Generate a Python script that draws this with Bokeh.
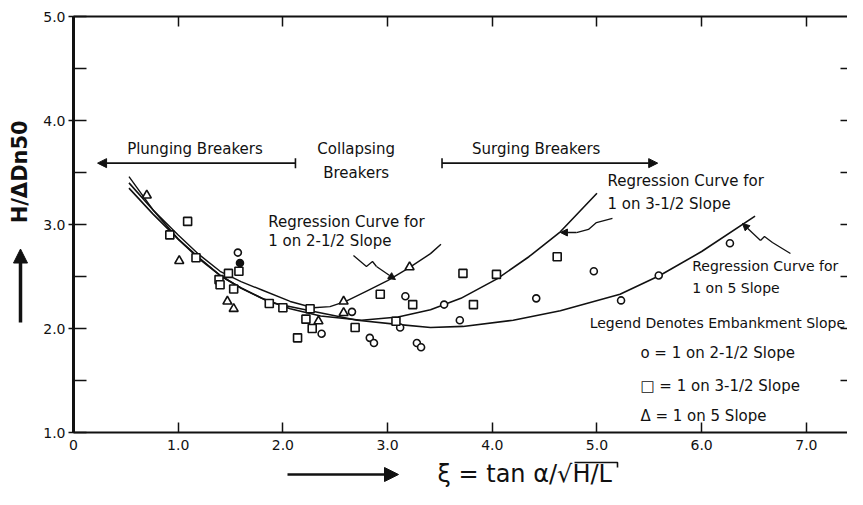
from bokeh.plotting import figure
from bokeh.layouts import row, column
from bokeh.models import Range1d, LinearAxis, FixedTicker, Label, Arrow, NormalHead, TeeHead
from bokeh.embed import file_html
from bokeh.resources import INLINE
import math

# ---------------- data ----------------
x_tick_values = [0, 1, 2, 3, 4, 5, 6, 7]
x_tick_labels = ["0", "1.0", "2.0", "3.0", "4.0", "5.0", "6.0", "7.0"]
y_tick_values = [1, 2, 3, 4, 5]
y_tick_labels = ["1.0", "2.0", "3.0", "4.0", "5.0"]
y_minor_ticks = [1.5, 2.5, 3.5, 4.5]

# 1 on 2-1/2 slope (circles)
circle_x = [1.57, 2.37, 2.66, 2.83, 2.87, 3.12, 3.17, 3.28, 3.32, 3.54, 3.69, 4.42, 4.97, 5.23, 5.59, 6.27]
circle_y = [2.73, 1.95, 2.16, 1.91, 1.86, 2.01, 2.31, 1.86, 1.82, 2.23, 2.08, 2.29, 2.55, 2.27, 2.51, 2.82]
filled_circle_x = [1.59]
filled_circle_y = [2.63]
# 1 on 3-1/2 slope (squares)
square_x = [0.92, 1.09, 1.17, 1.39, 1.40, 1.48, 1.53, 1.58, 1.87, 2.00, 2.14, 2.22, 2.26, 2.28,
            2.69, 2.93, 3.08, 3.24, 3.72, 3.82, 4.04, 4.62]
square_y = [2.90, 3.03, 2.68, 2.47, 2.42, 2.53, 2.38, 2.55, 2.24, 2.20, 1.91, 2.09, 2.19, 2.00,
            2.01, 2.33, 2.07, 2.23, 2.53, 2.23, 2.52, 2.69]
# 1 on 5 slope (triangles)
triangle_x = [0.70, 1.01, 1.47, 1.53, 2.34, 2.58, 2.58, 3.21]
triangle_y = [3.28, 2.65, 2.26, 2.19, 2.07, 2.26, 2.15, 2.59]

# regression curves
curve25_x = [0.53, 0.76, 1.0, 1.2, 1.4, 1.6, 1.8, 2.07, 2.29, 2.45, 2.6, 2.8, 3.0, 3.2, 3.41, 3.51]
curve25_y = [3.46, 3.14, 2.90, 2.71, 2.55, 2.45, 2.37, 2.26, 2.20, 2.21, 2.26, 2.36, 2.46, 2.58, 2.72, 2.81]
curve35_x = [0.53, 0.76, 1.0, 1.2, 1.4, 1.6, 1.8, 2.07, 2.36, 2.75, 3.1, 3.41, 3.7, 4.05, 4.35, 4.65, 5.0]
curve35_y = [3.40, 3.14, 2.86, 2.67, 2.51, 2.39, 2.29, 2.19, 2.12, 2.08, 2.11, 2.18, 2.29, 2.48, 2.69, 2.93, 3.30]
curve5_x = [0.53, 0.76, 1.0, 1.2, 1.4, 1.6, 1.88, 2.26, 2.71, 3.09, 3.41, 3.72, 4.2, 4.65, 5.22, 5.6, 6.0, 6.51]
curve5_y = [3.35, 3.10, 2.86, 2.68, 2.51, 2.39, 2.25, 2.17, 2.08, 2.04, 2.01, 2.02, 2.08, 2.17, 2.33, 2.51, 2.74, 3.08]

# ---------------- layout constants ----------------
FONT = "DejaVu Sans"
INK = "#111111"
TOTAL_W, TOTAL_H = 847, 489
LEFT_W = 36           # strip holding the vertical axis title
MAIN_H = 458          # main figure height; the rest is the strip with the x title

# ---------------- main figure ----------------
p = figure(width=TOTAL_W - LEFT_W, height=MAIN_H, output_backend="svg", toolbar_location=None,
           x_range=Range1d(0, 7.393), y_range=Range1d(1.0, 5.0),
           min_border_left=37, min_border_right=0, min_border_top=16, min_border_bottom=26)
p.outline_line_color = None
p.xgrid.visible = False
p.ygrid.visible = False

xa = p.xaxis[0]
xa.ticker = FixedTicker(ticks=x_tick_values)
xa.major_label_overrides = {v: s for v, s in zip(x_tick_values, x_tick_labels)}
xa.axis_line_width = 2
xa.axis_line_color = INK
xa.major_tick_in = 10
xa.major_tick_out = 0
xa.major_tick_line_width = 1.5
xa.major_tick_line_color = INK
xa.minor_tick_line_color = None
xa.major_label_standoff = 7
xa.major_label_text_font = FONT
xa.major_label_text_font_size = "14px"
xa.major_label_text_color = INK

ya = p.yaxis[0]
ya.ticker = FixedTicker(ticks=y_tick_values, minor_ticks=y_minor_ticks)
ya.major_label_overrides = {v: s for v, s in zip(y_tick_values, y_tick_labels)}
ya.axis_line_width = 3
ya.axis_line_color = INK
ya.major_tick_in = 13
ya.major_tick_out = 5
ya.major_tick_line_width = 1.5
ya.major_tick_line_color = INK
ya.minor_tick_in = 13
ya.minor_tick_out = 0
ya.minor_tick_line_width = 1.5
ya.minor_tick_line_color = INK
ya.major_label_standoff = 3
ya.major_label_text_font = FONT
ya.major_label_text_font_size = "14px"
ya.major_label_text_color = INK

top_ticks = x_tick_values[1:]
ta = LinearAxis(ticker=FixedTicker(ticks=top_ticks),
                major_label_overrides={v: "" for v in top_ticks}, major_label_standoff=0,
                axis_line_width=2, axis_line_color=INK,
                major_tick_in=10, major_tick_out=0, major_tick_line_width=1.5,
                major_tick_line_color=INK, minor_tick_line_color=None)
p.add_layout(ta, "above")

right_ticks = [1.5, 2.0, 2.5, 3.0, 3.5, 4.0, 4.5]
ra = LinearAxis(ticker=FixedTicker(ticks=right_ticks),
                major_label_overrides={v: "" for v in right_ticks}, major_label_standoff=0,
                axis_line_color=None, major_tick_in=7, major_tick_out=0,
                major_tick_line_width=1.5, major_tick_line_color=INK,
                minor_tick_line_color=None)
p.add_layout(ra, "right")

# regression curves
p.line(curve25_x, curve25_y, line_color=INK, line_width=1.4)
p.line(curve35_x, curve35_y, line_color=INK, line_width=1.6)
p.line(curve5_x, curve5_y, line_color=INK, line_width=1.6)

# data points
p.scatter(circle_x, circle_y, marker="circle", size=7, fill_color="white", line_color=INK, line_width=1.6)
p.scatter(filled_circle_x, filled_circle_y, marker="circle", size=7, fill_color=INK, line_color=INK, line_width=1.6)
p.scatter(square_x, square_y, marker="square", size=8, fill_color="white", line_color=INK, line_width=1.6)
p.scatter(triangle_x, triangle_y, marker="triangle", size=9, fill_color="white", line_color=INK, line_width=1.6)


def label(fig, x, y, text, size="15px", align="left", style="normal", angle=0.0, baseline="middle"):
    fig.add_layout(Label(x=x, y=y, text=text, text_font=FONT, text_font_size=size,
                         text_align=align, text_baseline=baseline, text_color=INK,
                         text_font_style=style, angle=angle))


def head(size):
    return NormalHead(size=size, fill_color=INK, line_color=INK)


# breaker zones
label(p, 1.16, 3.73, "Plunging Breakers", align="center")
label(p, 2.70, 3.73, "Collapsing", align="center")
label(p, 2.70, 3.50, "Breakers", align="center")
label(p, 4.42, 3.73, "Surging Breakers", align="center")
p.add_layout(Arrow(x_start=2.12, y_start=3.59, x_end=0.23, y_end=3.59, line_width=1.6, line_color=INK,
                   end=head(9), start=TeeHead(size=10, line_width=1.6, line_color=INK)))
p.add_layout(Arrow(x_start=3.52, y_start=3.59, x_end=5.58, y_end=3.59, line_width=1.6, line_color=INK,
                   end=head(9), start=TeeHead(size=10, line_width=1.6, line_color=INK)))

# regression curve labels
label(p, 1.86, 3.02, "Regression Curve for")
label(p, 1.86, 2.84, "1 on 2-1/2 Slope")
label(p, 5.10, 3.42, "Regression Curve for")
label(p, 5.10, 3.20, "1 on 3-1/2 Slope")
label(p, 5.91, 2.60, "Regression Curve for", size="14px")
label(p, 5.91, 2.39, "1 on 5 Slope", size="14px")

# squiggle pointers
ptr25_x = [2.674, 2.798, 2.856, 2.894]
ptr25_y = [2.702, 2.596, 2.644, 2.596]
p.line(ptr25_x, ptr25_y, line_color=INK, line_width=1.3)
p.add_layout(Arrow(x_start=2.894, y_start=2.596, x_end=3.075, y_end=2.471, line_width=1.3,
                   line_color=INK, end=head(7), start=None))
ptr35_x = [5.148, 4.995, 4.919, 4.804]
ptr35_y = [3.058, 3.019, 2.952, 2.923]
p.line(ptr35_x, ptr35_y, line_color=INK, line_width=1.3)
p.add_layout(Arrow(x_start=4.804, y_start=2.923, x_end=4.651, y_end=2.923, line_width=1.3,
                   line_color=INK, end=head(7), start=None))
ptr5_x = [6.848, 6.676, 6.600, 6.562]
ptr5_y = [2.721, 2.827, 2.885, 2.846]
p.line(ptr5_x, ptr5_y, line_color=INK, line_width=1.3)
p.add_layout(Arrow(x_start=6.562, y_start=2.846, x_end=6.390, y_end=3.010, line_width=1.3,
                   line_color=INK, end=head(7), start=None))

# legend text
label(p, 4.93, 2.05, "Legend Denotes Embankment Slope", size="14px")
label(p, 5.415, 1.76, "o  =  1 on 2-1/2 Slope")
label(p, 5.415, 1.45, "\u25a1  =  1 on 3-1/2 Slope")
label(p, 5.415, 1.16, "\u0394  =  1 on 5 Slope")

# ---------------- left strip: vertical axis title (pixel coordinates) ----------------
pl = figure(width=LEFT_W, height=MAIN_H, output_backend="svg", toolbar_location=None,
            x_range=Range1d(0, LEFT_W), y_range=Range1d(MAIN_H, 0),
            x_axis_type=None, y_axis_type=None, min_border=0)
pl.outline_line_color = None
pl.xgrid.visible = False
pl.ygrid.visible = False
label(pl, 19, 171, "H/\u0394Dn50", size="21px", align="center", style="bold", angle=math.pi / 2)
pl.add_layout(Arrow(x_start=20, y_start=337, x_end=20, y_end=256, line_width=3.5, line_color=INK,
                    end=head(14), start=None))

# ---------------- bottom strip: horizontal axis title (pixel coordinates) ----------------
pb = figure(width=TOTAL_W, height=TOTAL_H - MAIN_H, output_backend="svg", toolbar_location=None,
            x_range=Range1d(0, TOTAL_W), y_range=Range1d(TOTAL_H, MAIN_H),
            x_axis_type=None, y_axis_type=None, min_border=0)
pb.outline_line_color = None
pb.xgrid.visible = False
pb.ygrid.visible = False
label(pb, 437, 473, "\u03be = tan \u03b1/\u221aH/L", size="24px", align="left", baseline="middle")
pb.add_layout(Arrow(x_start=287, y_start=474, x_end=398, y_end=474, line_width=2.5, line_color=INK,
                    end=head(14), start=None))
over_x = [574, 617, 617]
over_y = [462, 462, 467]
pb.line(over_x, over_y, line_color=INK, line_width=1.6)

layout = column(row(pl, p, spacing=0), pb, spacing=0)
open("out.html", "w").write(file_html(layout, INLINE))
